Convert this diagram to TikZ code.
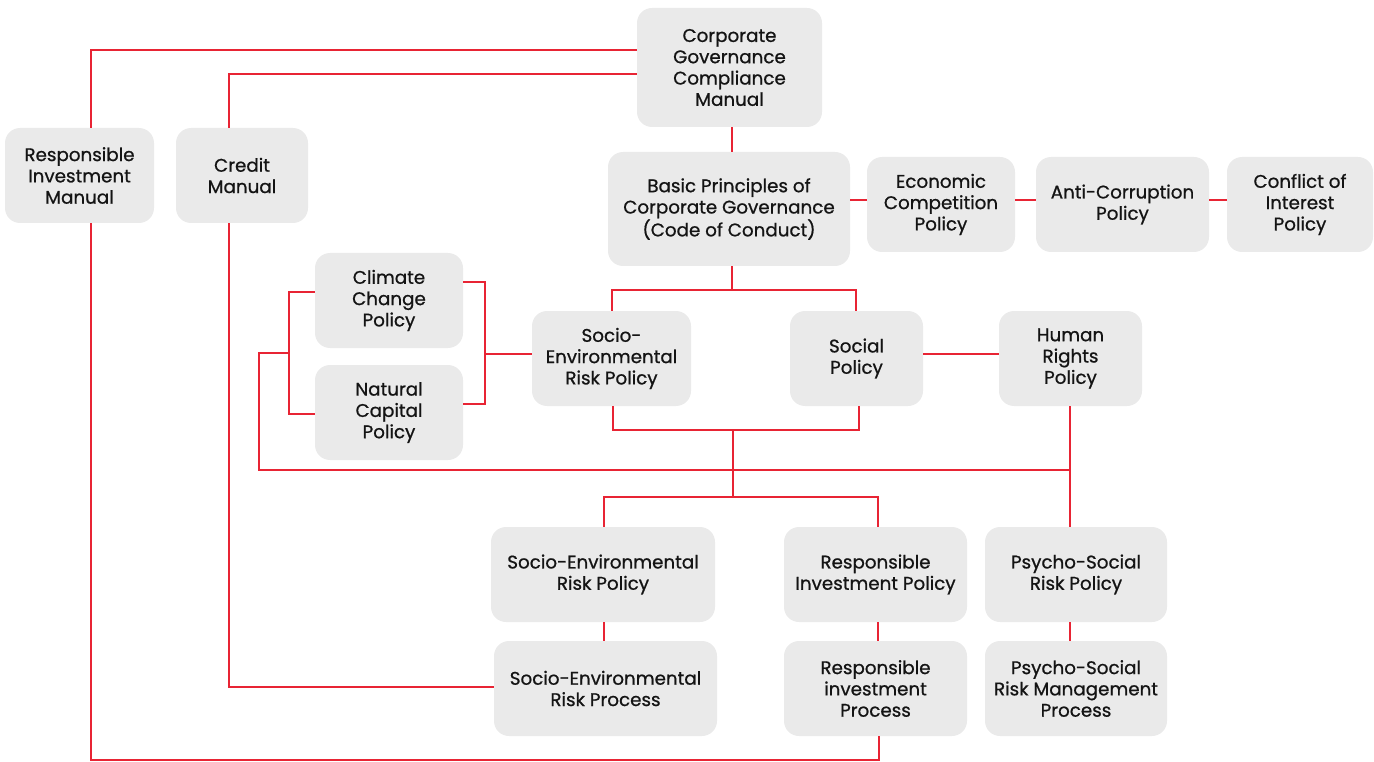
\documentclass[tikz,border=0pt]{standalone}
\usepackage{fontspec}
\setmainfont{Poppins}
\newfontfamily\boxfont[FakeBold=0.8]{Poppins}
\usetikzlibrary{positioning}
\definecolor{linkred}{RGB}{232,36,52}
\definecolor{boxgray}{RGB}{234,234,234}
\definecolor{txtdark}{RGB}{20,20,20}
\tikzset{
  box/.style={fill=boxgray, rounded corners=15pt, align=center, inner sep=2pt,
              minimum height=95pt, text=txtdark, font=\boxfont\fontsize{18.3}{21.3}\selectfont},
  link/.style={linkred, line width=1.3pt},
}

\begin{document}
\begin{tikzpicture}[x=1pt, y=-1pt]
  \useasboundingbox (0,0) rectangle (1374,762);
  % manuals
  \node[box, minimum width=185pt, minimum height=119pt] (cgcm) at (729.5,67.5) {Corporate\\Governance\\Compliance\\Manual};
  \node[box, minimum width=149pt] (rim) at (79.5,175.5) {Responsible\\Investment\\Manual};
  \node[box, minimum width=132pt] (cred) at (242,175.5) {Credit\\Manual};
  % code of conduct row
  \node[box, minimum width=242pt, minimum height=114pt] (bpcg) at (729,209) {Basic Principles of\\Corporate Governance\\(Code of Conduct)};
  \node[box, minimum width=148pt] (econ) at (941,204.5) {Economic\\Competition\\Policy};
  \node[box, minimum width=173pt] (anti) at (1122.5,204.5) {Anti-Corruption\\Policy};
  \node[box, minimum width=146pt] (conf) at (1300,204.5) {Conflict of\\Interest\\Policy};
  % policies
  \node[box, minimum width=148pt] (clim) at (389,300.5) {Climate\\Change\\Policy};
  \node[box, minimum width=148pt] (nat) at (389,412.5) {Natural\\Capital\\Policy};
  \node[box, minimum width=159pt] (serp) at (611.5,358.5) {Socio-\\Environmental\\Risk Policy};
  \node[box, minimum width=133pt] (soc) at (856.5,358.5) {Social\\Policy};
  \node[box, minimum width=143pt] (hr) at (1070.5,358.5) {Human\\Rights\\Policy};
  % lower policies and processes
  \node[box, minimum width=224pt] (serpl) at (603,574.5) {Socio-Environmental\\Risk Policy};
  \node[box, minimum width=183pt] (rip) at (875.5,574.5) {Responsible\\Investment Policy};
  \node[box, minimum width=182pt] (psrp) at (1076,574.5) {Psycho-Social\\Risk Policy};
  \node[box, minimum width=223pt] (serpp) at (605.5,688.5) {Socio-Environmental\\Risk Process};
  \node[box, minimum width=183pt] (ripp) at (875.5,688.5) {Responsible\\investment\\Process};
  \node[box, minimum width=182pt] (psrmp) at (1076,688.5) {Psycho-Social\\Risk Management\\Process};

  % links from the compliance manual
  \draw[link] (cgcm.west |- 0,50) -| (rim.north -| 91,0);
  \draw[link] (cgcm.west |- 0,74) -| (cred.north -| 229,0);
  \draw[link] (cgcm.south -| 732,0) -- (bpcg.north -| 732,0);
  \draw[link] (bpcg.east |- 0,200) -- (econ.west |- 0,200);
  \draw[link] (econ.east |- 0,200) -- (anti.west |- 0,200);
  \draw[link] (anti.east |- 0,200) -- (conf.west |- 0,200);
  % code of conduct to policies
  \draw[link] (bpcg.south -| 732,0) -- (732,290);
  \draw[link] (serp.north -| 612,0) |- (856,290) -- (soc.north -| 856,0);
  \draw[link] (clim.east |- 0,282) -| (485,404) -- (nat.east |- 0,404);
  \draw[link] (485,354) -- (serp.west |- 0,354);
  \draw[link] (clim.west |- 0,292) -| (289,414) -- (nat.west |- 0,414);
  \draw[link] (289,353) -| (259,470) -- (1070,470);
  \draw[link] (soc.east |- 0,354) -- (hr.west |- 0,354);
  \draw[link] (hr.south -| 1070,0) -- (psrp.north -| 1070,0);
  % policies to lower level
  \draw[link] (serp.south -| 613,0) |- (859,430) -- (soc.south -| 859,0);
  \draw[link] (733,430) -- (733,497);
  \draw[link] (serpl.north -| 604,0) |- (878,497) -- (rip.north -| 878,0);
  \draw[link] (serpl.south -| 604,0) -- (serpp.north -| 604,0);
  \draw[link] (rip.south -| 878,0) -- (ripp.north -| 878,0);
  \draw[link] (psrp.south -| 1070,0) -- (psrmp.north -| 1070,0);
  % manuals down to processes
  \draw[link] (rim.south -| 91,0) |- (879,760) -- (ripp.south -| 879,0);
  \draw[link] (cred.south -| 229,0) |- (serpp.west |- 0,687);
\end{tikzpicture}
\end{document}
